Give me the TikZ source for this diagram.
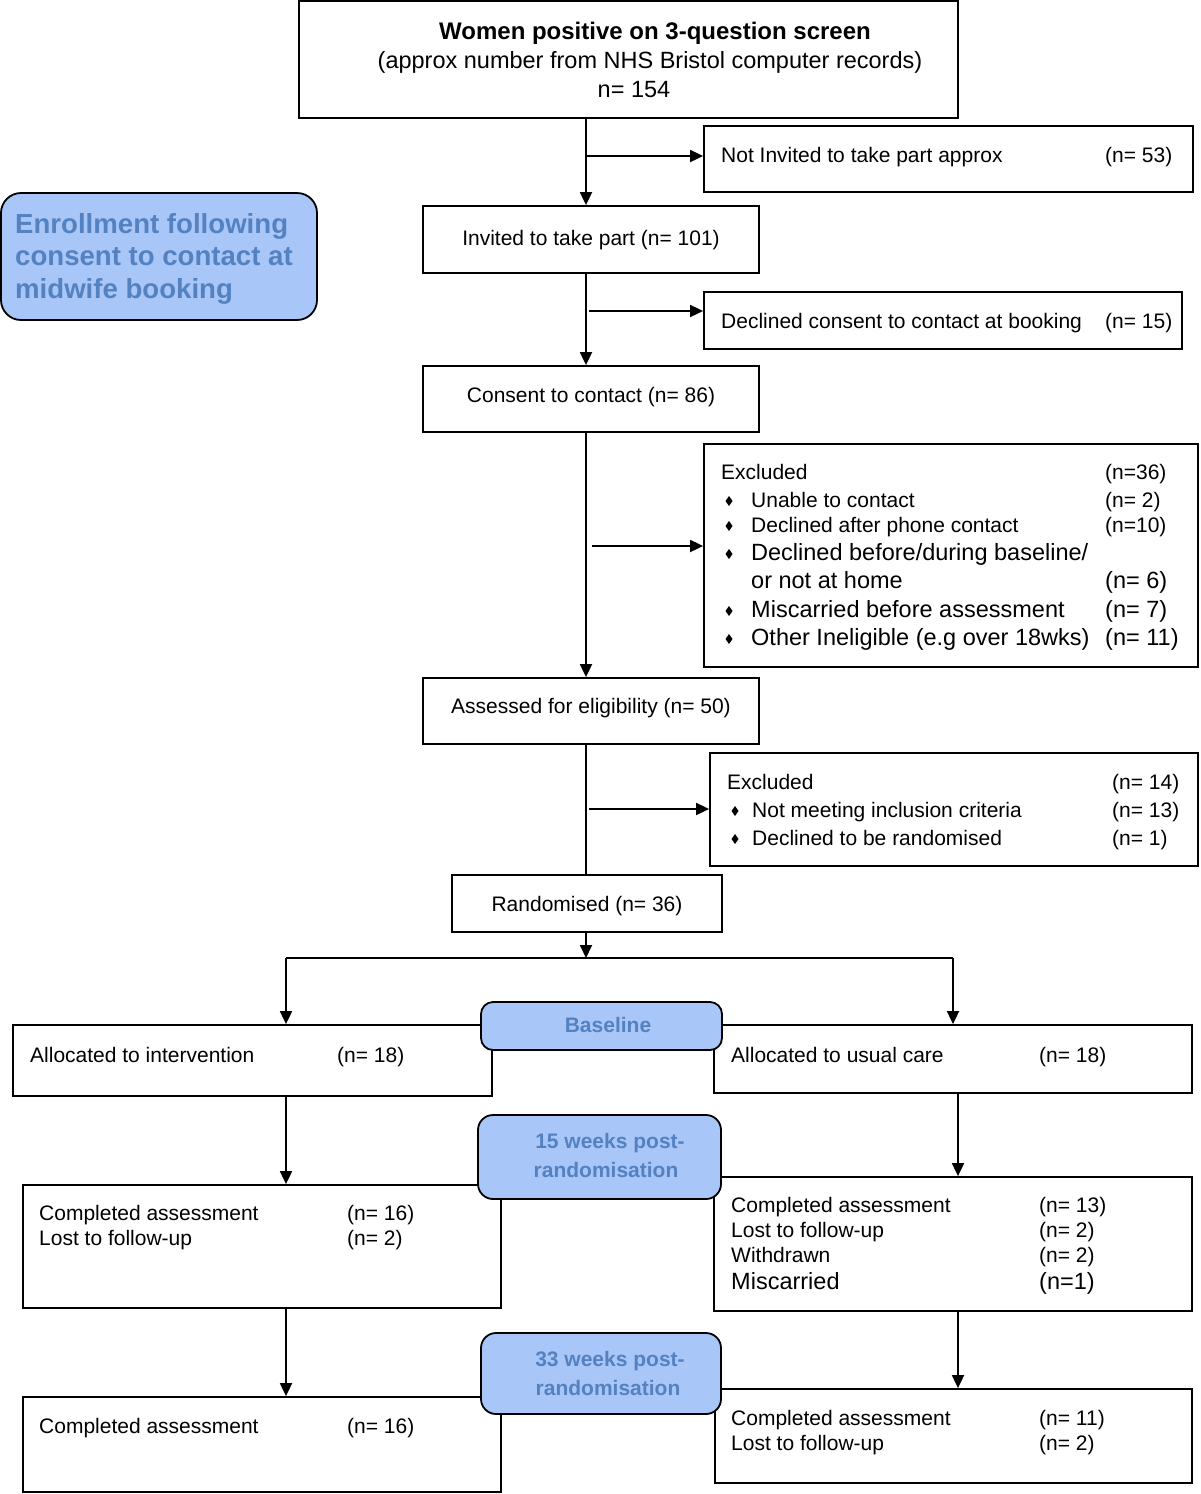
\documentclass[tikz,border=0pt]{standalone}
\usepackage{fontspec}
\setmainfont{Liberation Sans}
\usetikzlibrary{arrows.meta,fit}
\definecolor{bfill}{RGB}{169,198,248}
\definecolor{btext}{RGB}{84,130,192}
\newcommand{\fsn}{\fontsize{21}{25}\selectfont}
\newcommand{\fsl}{\fontsize{23.5}{28}\selectfont}
\newcommand{\fsh}{\fontsize{23.5}{28}\selectfont}
\newcommand{\fsb}{\fontsize{24}{29}\selectfont\bfseries}
\newcommand{\fse}{\fontsize{27.6}{32}\selectfont\bfseries}
\newcommand{\fsw}{\fontsize{21}{25}\selectfont\bfseries}
\begin{document}
\begin{tikzpicture}[x=1pt,y=-1pt,
  box/.style={draw=black, line width=1.8pt, inner sep=0pt},
  bluebox/.style={draw=black, line width=1.8pt, fill=bfill, inner sep=0pt, rounded corners=#1},
  bluebox/.default=13pt,
  tx/.style={inner sep=0pt, anchor=base west, font=\fsn},
  txl/.style={inner sep=0pt, anchor=base west, font=\fsl},
  txc/.style={inner sep=0pt, anchor=base, font=\fsn},
  wtx/.style={inner sep=0pt, anchor=base, font=\fsw, text=btext},
  conn/.style={line width=1.8pt},
  arr/.style={conn, -{Triangle[length=13pt,width=12pt]}},
  bul/.style={fill=black}
]
\useasboundingbox[fill=white] (0,0) rectangle (1200,1494);

% ---------- boxes ----------
\node[box, fit={(299,1) (958,118)}] (top) {};
\node[box, fit={(704,126) (1193,192)}] (ni) {};
\node[box, fit={(423,206) (759,273)}] (inv) {};
\node[box, fit={(704,292) (1182,349)}] (dec) {};
\node[box, fit={(423,366) (759,432)}] (con) {};
\node[box, fit={(704,444) (1198,667)}] (exa) {};
\node[box, fit={(423,678) (759,744)}] (ass) {};
\node[box, fit={(710,753) (1198,866)}] (exb) {};
\node[box, fit={(452,875) (722,932)}] (rnd) {};
\node[box, fit={(13,1025) (492,1096)}] (alli) {};
\node[box, fit={(714,1025) (1192,1093)}] (allu) {};
\node[box, fit={(23,1185) (501,1308)}] (cfi) {};
\node[box, fit={(714,1177) (1192,1311)}] (cfu) {};
\node[box, fit={(23,1397) (501,1492)}] (cti) {};
\node[box, fit={(715,1389) (1192,1483)}] (ctu) {};

% ---------- connectors ----------
\coordinate (sp) at (586,0);
\draw[arr] (top.south -| sp) -- (inv.north -| sp);
\coordinate (b1) at (586,156);
\draw[arr] (b1) -- (b1 -| ni.west);
\draw[arr] (inv.south -| sp) -- (con.north -| sp);
\coordinate (b2) at (589,311);
\draw[arr] (b2) -- (b2 -| dec.west);
\draw[arr] (con.south -| sp) -- (ass.north -| sp);
\coordinate (b3) at (592,546);
\draw[arr] (b3) -- (b3 -| exa.west);
\draw[conn] (ass.south -| sp) -- (rnd.north -| sp);
\coordinate (b4) at (589,809);
\draw[arr] (b4) -- (b4 -| exb.west);
\coordinate (sM) at (586,958);
\coordinate (sL) at (286,958);
\coordinate (sR) at (953,958);
\draw[arr] (rnd.south -| sM) -- (sM);
\draw[conn] (sL) -- (sR);
\draw[arr] (sL) -- (sL |- alli.north);
\draw[arr] (sR) -- (sR |- allu.north);
\coordinate (cL) at (286,0);
\coordinate (cR) at (958,0);
\draw[arr] (alli.south -| cL) -- (cfi.north -| cL);
\draw[arr] (allu.south -| cR) -- (cfu.north -| cR);
\draw[arr] (cfi.south -| cL) -- (cti.north -| cL);
\draw[arr] (cfu.south -| cR) -- (ctu.north -| cR);

% ---------- blue label boxes ----------
\node[bluebox=20pt, fit={(1,193) (317,320)}] (enr) {};
\node[bluebox=12pt, fit={(481,1002) (722,1050)}] (base) {};
\node[bluebox=15pt, fit={(478,1115) (721,1199)}] (wf) {};
\node[bluebox=15pt, fit={(481,1333) (721,1414)}] (wt) {};

% ---------- texts ----------
\node[inner sep=0pt, anchor=base, font=\fsb] (top1) at (655,39) {Women positive on 3-question screen};
\node[inner sep=0pt, anchor=base, font=\fsh] (top2) at (650,68) {(approx number from NHS Bristol computer records)};
\node[inner sep=0pt, anchor=base, font=\fsh] (top3) at (634,97) {n= 154};

\node[inner sep=0pt, anchor=base west, font=\fse, text=btext] (enr1) at (15,233) {Enrollment following};
\node[inner sep=0pt, anchor=base west, font=\fse, text=btext] (enr2) at (15,265) {consent to contact at};
\node[inner sep=0pt, anchor=base west, font=\fse, text=btext] (enr3) at (15,298) {midwife booking};

\node[tx] (ni1) at (721,162) {Not Invited to take part approx};
\node[tx] (ni2) at (1105,162) {(n= 53)};
\node[txc] (inv1) at (591,245) {Invited to take part (n= 101)};
\node[tx] (dec1) at (721,328) {Declined consent to contact at booking};
\node[tx] (dec2) at (1105,328) {(n= 15)};
\node[txc] (con1) at (591,402) {Consent to contact (n= 86)};

\node[tx] (ea0) at (721,479) {Excluded};
\node[tx] (ea0n) at (1105,479) {(n=36)};
\node[tx] (ea1) at (751,507) {Unable to contact};
\node[tx] (ea1n) at (1105,507) {(n= 2)};
\node[tx] (ea2) at (751,532) {Declined after phone contact};
\node[tx] (ea2n) at (1105,532) {(n=10)};
\node[txl] (ea3) at (751,560) {Declined before/during baseline/};
\node[txl] (ea4) at (751,588) {or not at home};
\node[txl] (ea4n) at (1105,588) {(n= 6)};
\node[txl] (ea5) at (751,617) {Miscarried before assessment};
\node[txl] (ea5n) at (1105,617) {(n= 7)};
\node[txl] (ea6) at (751,645) {Other Ineligible (e.g over 18wks)};
\node[txl] (ea6n) at (1105,645) {(n= 11)};
\foreach \yy in {507,532,560,617,645}
  \fill[bul] (729,\yy) ++(0,-11) -- ++(3.5,5) -- ++(-3.5,5) -- ++(-3.5,-5) -- cycle;

\node[txc] (ass1) at (591,713) {Assessed for eligibility (n= 50)};
\node[tx] (eb0) at (727,789) {Excluded};
\node[tx] (eb0n) at (1112,789) {(n= 14)};
\node[tx] (eb1) at (752,817) {Not meeting inclusion criteria};
\node[tx] (eb1n) at (1112,817) {(n= 13)};
\node[tx] (eb2) at (752,845) {Declined to be randomised};
\node[tx] (eb2n) at (1112,845) {(n= 1)};
\foreach \yy in {817,845}
  \fill[bul] (735,\yy) ++(0,-11) -- ++(3.5,5) -- ++(-3.5,5) -- ++(-3.5,-5) -- cycle;

\node[txc] (rnd1) at (587,911) {Randomised (n= 36)};

\node[wtx] (base1) at (608,1032) {Baseline};
\node[tx] (ai1) at (30,1062) {Allocated to intervention};
\node[tx] (ai1n) at (337,1062) {(n= 18)};
\node[tx] (au1) at (731,1062) {Allocated to usual care};
\node[tx] (au1n) at (1039,1062) {(n= 18)};

\node[wtx] (wf1) at (610,1148) {15 weeks post-};
\node[wtx] (wf2) at (606,1177) {randomisation};
\node[tx] (fi1) at (39,1220) {Completed assessment};
\node[tx] (fi1n) at (347,1220) {(n= 16)};
\node[tx] (fi2) at (39,1245) {Lost to follow-up};
\node[tx] (fi2n) at (347,1245) {(n= 2)};
\node[tx] (fu1) at (731,1212) {Completed assessment};
\node[tx] (fu1n) at (1039,1212) {(n= 13)};
\node[tx] (fu2) at (731,1237) {Lost to follow-up};
\node[tx] (fu2n) at (1039,1237) {(n= 2)};
\node[tx] (fu3) at (731,1262) {Withdrawn};
\node[tx] (fu3n) at (1039,1262) {(n= 2)};
\node[txl] (fu4) at (731,1289) {Miscarried};
\node[txl] (fu4n) at (1039,1289) {(n=1)};

\node[wtx] (wt1) at (610,1366) {33 weeks post-};
\node[wtx] (wt2) at (608,1395) {randomisation};
\node[tx] (ti1) at (39,1433) {Completed assessment};
\node[tx] (ti1n) at (347,1433) {(n= 16)};
\node[tx] (tu1) at (731,1425) {Completed assessment};
\node[tx] (tu1n) at (1039,1425) {(n= 11)};
\node[tx] (tu2) at (731,1450) {Lost to follow-up};
\node[tx] (tu2n) at (1039,1450) {(n= 2)};
\end{tikzpicture}
\end{document}
